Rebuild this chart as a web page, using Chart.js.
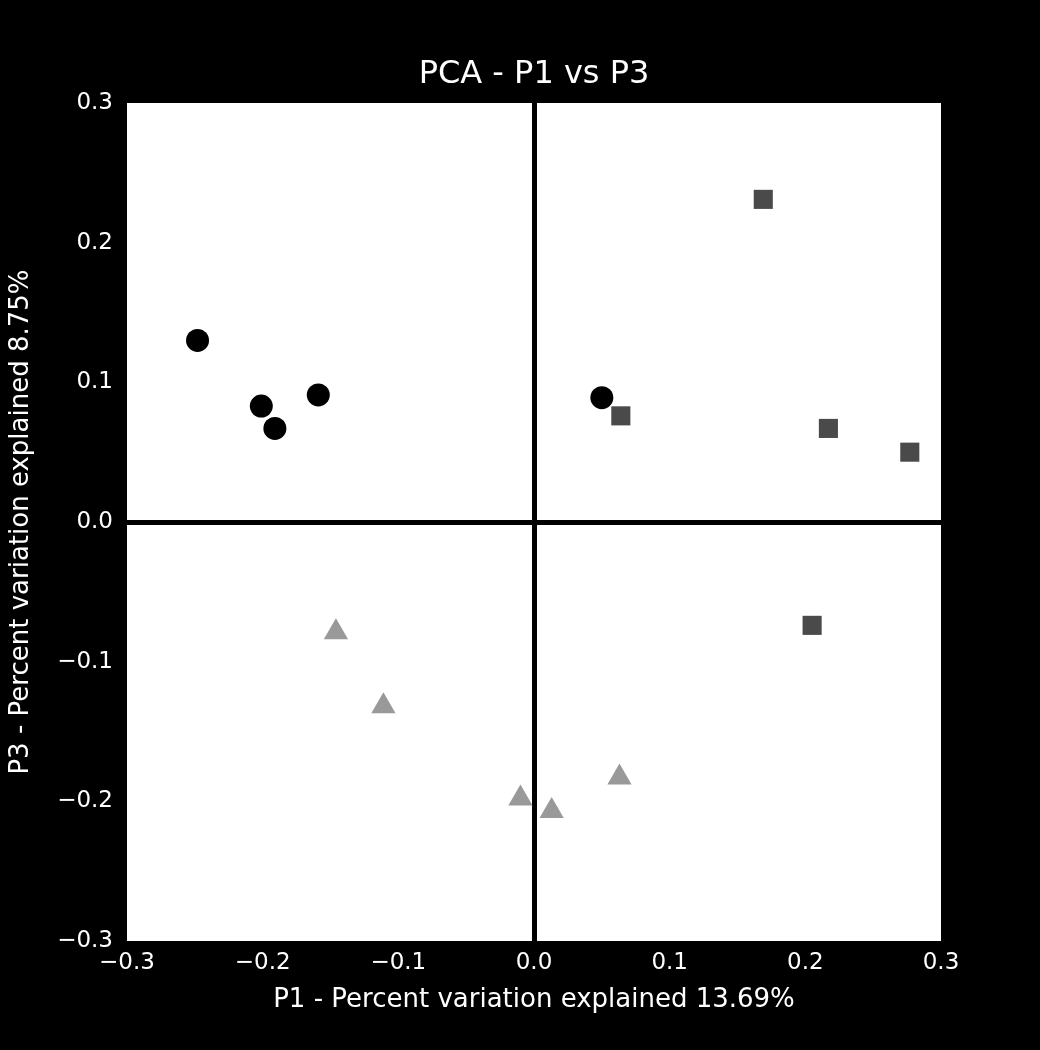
<!DOCTYPE html>
<html lang="en">
<head>
    <meta charset="UTF-8">
    <title>PCA - P1 vs P3</title>
    <script src="https://cdn.jsdelivr.net/npm/chart.js"></script>
    <style>
        body { margin: 0; background: #000; }
        canvas { display: block; }
    </style>
</head>
<body>
    <canvas id="myChart" width="1040" height="1050"></canvas>

    <script>
        // group 1 (circles)
        const groupAx = [-0.248, -0.201, -0.191, -0.159, 0.050];
        const groupAy = [0.130, 0.083, 0.067, 0.091, 0.089];
        // group 2 (squares)
        const groupBx = [0.169, 0.064, 0.217, 0.277, 0.205];
        const groupBy = [0.231, 0.076, 0.067, 0.050, -0.074];
        // group 3 (triangles)
        const groupCx = [-0.146, -0.111, -0.010, 0.013, 0.063];
        const groupCy = [-0.079, -0.132, -0.198, -0.207, -0.183];

        const xTickValues = [-0.3, -0.2, -0.1, 0.0, 0.1, 0.2, 0.3];
        const xTickLabels = ['\u22120.3', '\u22120.2', '\u22120.1', '0.0', '0.1', '0.2', '0.3'];
        const yTickValues = [-0.3, -0.2, -0.1, 0.0, 0.1, 0.2, 0.3];
        const yTickLabels = ['\u22120.3', '\u22120.2', '\u22120.1', '0.0', '0.1', '0.2', '0.3'];

        const chartTitle = 'PCA - P1 vs P3';
        const font = 'DejaVu Sans';

        const toPoints = (xs, ys) => xs.map((x, i) => ({ x: x, y: ys[i] }));

        // white plot background + title centred over the plot
        const plotFrame = {
            id: 'plotFrame',
            beforeDraw: (chart) => {
                const { ctx, chartArea } = chart;
                ctx.save();
                ctx.fillStyle = '#ffffff';
                ctx.fillRect(chartArea.left, chartArea.top, chartArea.right - chartArea.left, chartArea.bottom - chartArea.top);
                ctx.restore();
            },
            afterDraw: (chart) => {
                const { ctx, chartArea } = chart;
                ctx.save();
                ctx.font = '32px ' + font;
                ctx.fillStyle = '#ffffff';
                ctx.textAlign = 'center';
                ctx.textBaseline = 'middle';
                ctx.fillText(chartTitle, (chartArea.left + chartArea.right) / 2, 75);
                ctx.restore();
            }
        };

        const zeroLine = (ctx) => Math.abs(ctx.tick.value) < 1e-9 ? '#000000' : 'rgba(0,0,0,0)';

        const config = {
            type: 'scatter',
            data: {
                datasets: [
                    {
                        data: toPoints(groupAx, groupAy),
                        pointStyle: 'circle',
                        pointRadius: 11.5,
                        backgroundColor: '#000000',
                        borderWidth: 0
                    },
                    {
                        data: toPoints(groupBx, groupBy),
                        pointStyle: 'rect',
                        pointRadius: 13.5,
                        backgroundColor: '#4a4a4a',
                        borderWidth: 0
                    },
                    {
                        data: toPoints(groupCx, groupCy),
                        pointStyle: 'triangle',
                        pointRadius: 14,
                        backgroundColor: '#999999',
                        borderWidth: 0
                    }
                ]
            },
            options: {
                responsive: false,
                animation: false,
                events: [],
                layout: { padding: { left: 0, right: 99, top: 103, bottom: 10 } },
                plugins: {
                    legend: { display: false },
                    tooltip: { enabled: false },
                    title: { display: false }
                },
                scales: {
                    x: {
                        type: 'linear',
                        min: -0.3,
                        max: 0.3,
                        afterBuildTicks: (scale) => { scale.ticks = xTickValues.map(v => ({ value: v })); },
                        afterFit: (scale) => { scale.height = 99; },
                        ticks: {
                            color: '#ffffff',
                            font: { family: font, size: 23 },
                            padding: 8,
                            maxRotation: 0,
                            callback: (value, index) => xTickLabels[index]
                        },
                        grid: { color: zeroLine, lineWidth: 5, drawTicks: false },
                        border: { display: false },
                        title: {
                            display: true,
                            text: 'P1 - Percent variation explained 13.69%',
                            color: '#ffffff',
                            font: { family: font, size: 26 },
                            padding: { top: 0, bottom: 24 }
                        }
                    },
                    y: {
                        type: 'linear',
                        min: -0.3,
                        max: 0.3,
                        afterBuildTicks: (scale) => { scale.ticks = yTickValues.map(v => ({ value: v })); },
                        afterFit: (scale) => { scale.width = 127; },
                        ticks: {
                            color: '#ffffff',
                            font: { family: font, size: 23 },
                            padding: 14,
                            callback: (value, index) => yTickLabels[index]
                        },
                        grid: { color: zeroLine, lineWidth: 5, drawTicks: false },
                        border: { display: false },
                        title: {
                            display: true,
                            text: 'P3 - Percent variation explained 8.75%',
                            color: '#ffffff',
                            font: { family: font, size: 26 },
                            padding: { top: 6, bottom: 0 }
                        }
                    }
                }
            },
            plugins: [plotFrame]
        };

        const ctx = document.getElementById('myChart').getContext('2d');
        new Chart(ctx, config);
    </script>
</body>
</html>
